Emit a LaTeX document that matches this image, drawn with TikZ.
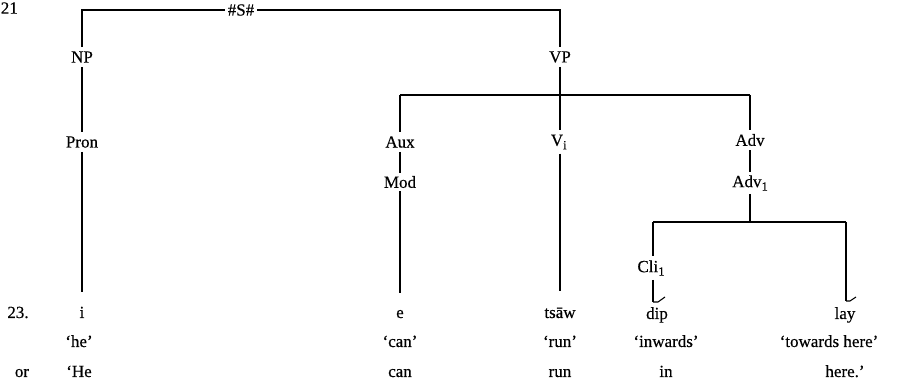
\documentclass[tikz,border=0pt]{standalone}
\usepackage{fontspec}
\setmainfont{Liberation Serif}[FakeBold=0.35]
\newcommand{\subsc}[1]{\raisebox{-3.5pt}{\fontsize{12.5}{14}\selectfont #1}}
\begin{document}
\begin{tikzpicture}[x=1pt,y=-1pt,
  every node/.style={font=\fontsize{17}{20}\selectfont, inner sep=0pt},
  lbl/.style={anchor=center, inner ysep=4pt, inner xsep=2pt},
  wd/.style={anchor=base},
  br/.style={line width=1.4pt}]
\useasboundingbox (0,0) rectangle (914,387);
% labels
\node[anchor=east] (n21) at (18,8) {21};
\node[lbl, inner xsep=3pt] (S) at (241,10) {\#S\#};
\node[lbl] (np) at (82,57) {NP};
\node[lbl] (vp) at (560,57) {VP};
\node[lbl] (pron) at (82,142) {Pron};
\node[lbl] (aux) at (400,142) {Aux};
\node[lbl, inner ysep=3pt] (mod) at (400,182) {Mod};
\node[lbl] (vi) at (557,142) {V\rlap{\subsc{i}}};
\node[lbl] (adv) at (750,140) {Adv};
\node[lbl, inner ysep=3pt] (adv1) at (750,183) {Adv\subsc{1}};
\node[lbl] (cli) at (651,268) {Cli\subsc{1}};
% words
\node[wd] (ex23) at (18,318) {23.};
\node[wd] (w1) at (82,318) {i};
\node[wd] (w2) at (400,318) {e};
\node[wd] (w3) at (560,318) {tsāw};
\node[wd] (w4) at (657,319) {dip};
\node[wd] (w5) at (845,319) {lay};
% glosses
\node[wd] (g1) at (79,347) {‘he’};
\node[wd] (g2) at (400,347) {‘can’};
\node[wd] (g3) at (560,347) {‘run’};
\node[wd] (g4) at (666,347) {‘inwards’};
\node[wd] (g5) at (829,347) {‘towards here’};
% free translation
\node[wd] (orr) at (22,377) {or};
\node[wd] (t1) at (79,377) {‘He};
\node[wd] (t2) at (400,377) {can};
\node[wd] (t3) at (560,377) {run};
\node[wd] (t4) at (666,377) {in};
\node[wd] (t5) at (845,377) {here.’};
% corner coordinates
\coordinate (c1) at (82,10);
\coordinate (c2) at (560,10);
\coordinate (h1) at (400,95);
\coordinate (h2) at (750,95);
\coordinate (hm) at (560,95);
\coordinate (k1) at (653,222);
\coordinate (k2) at (846,222);
\coordinate (km) at (750,222);
\coordinate (tm1) at (653,302);
\coordinate (tm2) at (846,301);
% S
\draw[br] (np.north) -- (c1) -- (S.west);
\draw[br] (S.east) -- (c2) -- (vp.north);
% NP branch
\draw[br] (np.south) -- (pron.north);
\draw[br] (pron.south) -- (w1.north |- 0,292);
% VP
\draw[br] (vp.south) -- (hm);
\draw[br] (h1) -- (h2);
\draw[br] (h1) -- (aux.north);
\draw[br] (hm) -- (vi.north -| hm);
\draw[br] (h2) -- (adv.north);
\draw[br] (aux.south) -- (mod.north);
\draw[br] (mod.south) -- (400,293);
\draw[br] (vi.south -| hm) -- (560,291);
% Adv
\draw[br] (adv.south) -- (adv1.north -| adv.south);
\draw[br] (adv1.south -| km) -- (km);
\draw[br] (k1) -- (k2);
\draw[br] (k1) -- (cli.north -| k1);
\draw[br] (cli.south -| k1) -- (tm1);
\draw[br] (k2) -- (tm2);
% tone marks
\draw[line width=1.1pt] (tm1) -- ++(5,0) -- ++(7,-5);
\draw[line width=1.1pt] (tm2) -- ++(4,0) -- ++(6,-4);
\end{tikzpicture}
\end{document}
